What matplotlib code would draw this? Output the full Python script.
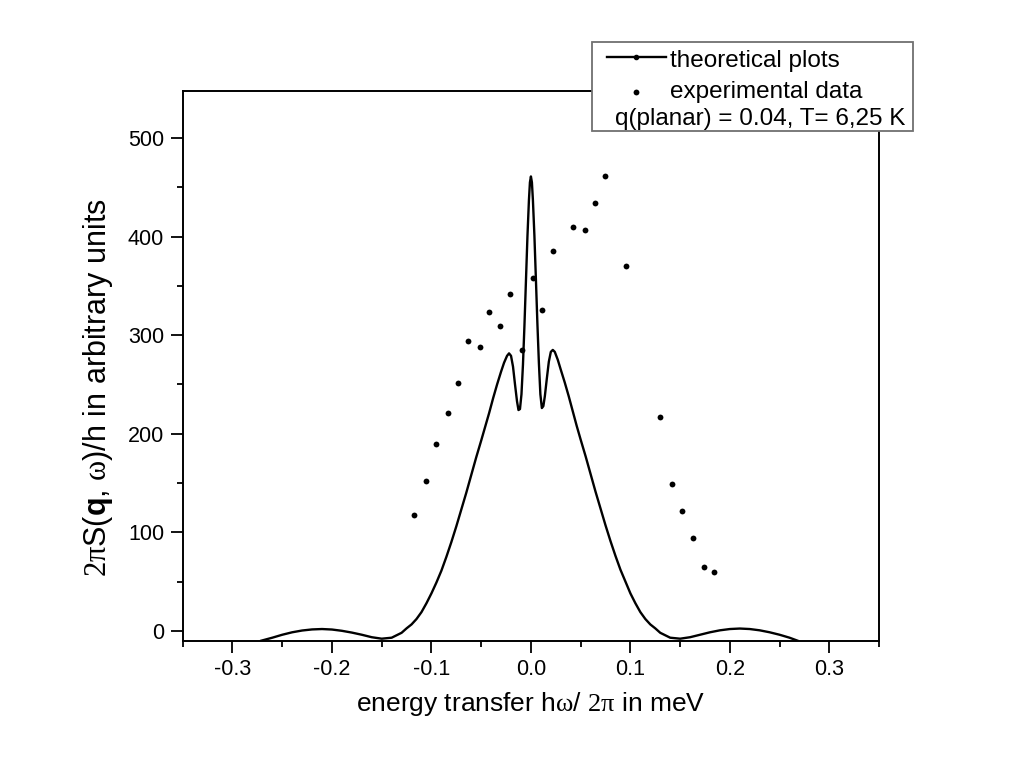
import matplotlib
matplotlib.use("Agg")
import matplotlib.pyplot as plt
from matplotlib.patches import Rectangle
from matplotlib.lines import Line2D
from matplotlib.ticker import MultipleLocator

plt.rcParams['font.family'] = ['Liberation Sans', 'DejaVu Sans']
plt.rcParams['mathtext.fontset'] = 'custom'
plt.rcParams['mathtext.rm'] = 'Liberation Serif'
plt.rcParams['mathtext.it'] = 'Liberation Serif:italic'
plt.rcParams['mathtext.bf'] = 'Liberation Sans:bold'

# theoretical curve
theory_x = [-0.271, -0.26, -0.25, -0.24, -0.23, -0.22, -0.21, -0.2, -0.19, -0.18,
            -0.17, -0.16, -0.15, -0.14, -0.13, -0.125, -0.12, -0.115, -0.11, -0.105,
            -0.1, -0.095, -0.09, -0.085, -0.08, -0.075, -0.07, -0.065, -0.06, -0.055,
            -0.05, -0.046, -0.042, -0.038, -0.034, -0.03, -0.027, -0.024, -0.022, -0.02,
            -0.018, -0.016, -0.014, -0.0125, -0.011, -0.0095, -0.008, -0.0065, -0.005,
            -0.0035, -0.002, -0.001, 0.0,
            0.001, 0.002, 0.0035, 0.005, 0.0065, 0.008, 0.0095, 0.011, 0.0125, 0.014,
            0.016, 0.018, 0.02, 0.022, 0.024, 0.027, 0.03, 0.034, 0.038, 0.042,
            0.046, 0.05, 0.055, 0.06, 0.065, 0.07, 0.075, 0.08, 0.085, 0.09,
            0.095, 0.1, 0.105, 0.11, 0.115, 0.12, 0.125, 0.13, 0.14, 0.15,
            0.16, 0.17, 0.18, 0.19, 0.2, 0.21, 0.22, 0.23, 0.24, 0.25, 0.26, 0.268]
theory_y = [-10, -7, -4, -1.5, 0.3, 1.4, 1.8, 1.3, 0, -1.8,
            -4, -6.5, -8, -7, -2, 2.5, 6.5, 12, 19, 28,
            38, 49, 61, 75, 90, 106, 123, 140, 158, 176,
            193, 207, 221, 236, 250, 263, 272, 279, 281.5, 279,
            268, 250, 233, 224, 225, 240, 270, 310, 355,
            400, 437, 455, 461,
            455, 437, 401, 357, 312, 272, 240, 226, 228, 238,
            256, 273, 283, 285, 283, 275, 265, 252, 238, 223,
            208, 194, 177, 159, 141, 124, 107, 91, 76, 62,
            50, 38, 28, 19, 12, 6.5, 2.5, -2, -7, -8,
            -6.5, -4, -1.5, 0.5, 1.8, 2.3, 1.8, 0.5, -1.5, -4, -7, -10]

# experimental points
exp_x = [-0.1177, -0.1056, -0.0956, -0.0835, -0.0731, -0.0634, -0.0516, -0.0423,
         -0.0308, -0.0208, -0.0094, 0.002, 0.0114, 0.0221, 0.0426, 0.054, 0.0644,
         0.0744, 0.0959, 0.1295, 0.1419, 0.1519, 0.1627, 0.1737, 0.1838]
exp_y = [117, 152, 190, 221, 251, 294, 288, 323,
         309, 342, 285, 358, 326, 385, 410, 407, 434,
         461, 370, 217, 149, 122, 94, 65, 60]

fig = plt.figure(figsize=(10.21, 7.68), dpi=100)
ax = fig.add_axes([0.179, 0.1658, 0.682, 0.7161])

ax.plot(theory_x, theory_y, color='black', lw=1.7)
ax.plot(exp_x, exp_y, 'o', color='black', ms=4.2, mec='none')

ax.set_xlim(-0.35, 0.35)
ax.set_ylim(-10, 548)
ax.xaxis.set_minor_locator(MultipleLocator(0.05))
ax.yaxis.set_minor_locator(MultipleLocator(50))
ax.set_xticks([-0.3, -0.2, -0.1, 0.0, 0.1, 0.2, 0.3])
ax.set_xticklabels(['-0.3', '-0.2', '-0.1', '0.0', '0.1', '0.2', '0.3'])
ax.set_yticks([0, 100, 200, 300, 400, 500])

for sp in ax.spines.values():
    sp.set_linewidth(1.4)
ax.tick_params(which='major', direction='out', length=8.5, width=1.3, labelsize=15.5, pad=5)
ax.tick_params(which='minor', direction='out', length=4, width=1.3)
ax.tick_params(top=False, right=False, which='both')

ax.set_xlabel(r'energy transfer h$\mathrm{\omega}$/ $\mathrm{2\pi}$ in meV', fontsize=19)
ax.xaxis.set_label_coords(0.5, -0.09)
ax.set_ylabel(r'$\mathrm{2\pi}$S($\mathbf{q}$, $\mathrm{\omega}$)/h in arbitrary units', fontsize=22)
ax.yaxis.set_label_coords(-0.098, 0.46)

# legend box drawn by hand, sits over the top right corner
box = Rectangle((0.5798, 0.8294), 0.3144, 0.1159, transform=fig.transFigure,
                facecolor='white', edgecolor='#707070', lw=1.3, zorder=5)
fig.add_artist(box)
fig.add_artist(Line2D([0.5945, 0.6523], [0.9258, 0.9258], transform=fig.transFigure,
                      color='black', lw=1.7, zorder=6))
fig.add_artist(Line2D([0.6234], [0.9258], transform=fig.transFigure, marker='o',
                      color='black', ms=3, zorder=6))
fig.add_artist(Line2D([0.6229], [0.8806], transform=fig.transFigure, marker='o',
                      color='black', ms=4.2, mec='none', zorder=6))
fig.text(0.6562, 0.9132, 'theoretical plots', fontsize=17.5, va='baseline', zorder=6)
fig.text(0.6562, 0.8720, 'experimental data', fontsize=17.5, va='baseline', zorder=6)
fig.text(0.6024, 0.8372, 'q(planar) = 0.04, T= 6,25 K', fontsize=17.5, va='baseline', zorder=6)

fig.savefig('out.png', dpi=100)
